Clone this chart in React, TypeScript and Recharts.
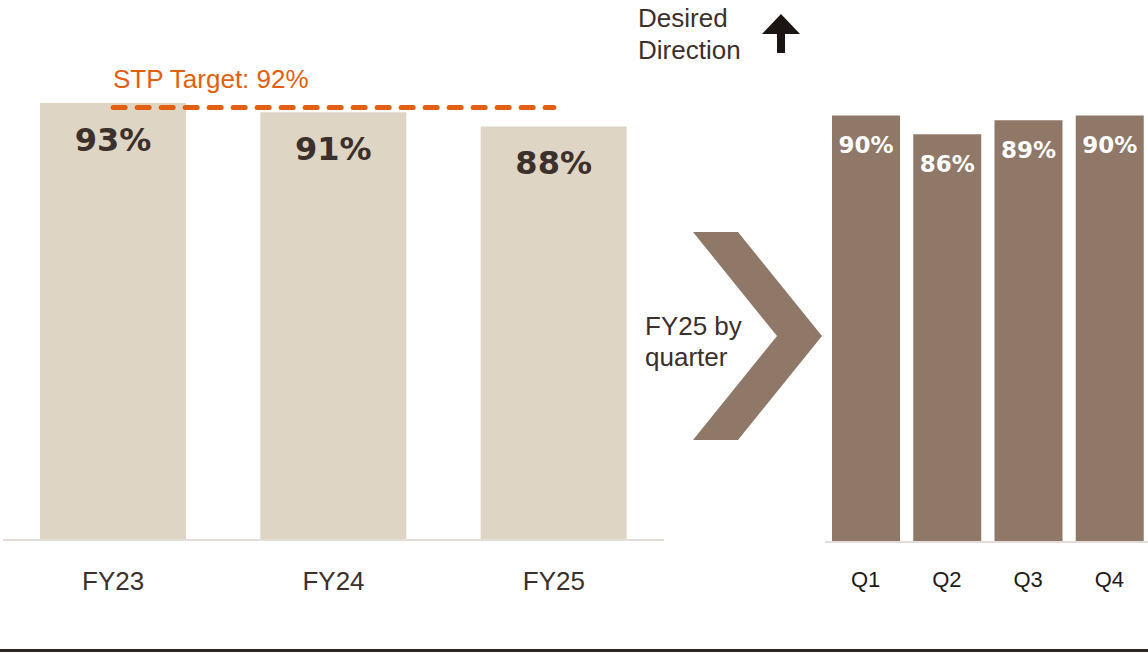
import React from "react";
import { BarChart, Bar, XAxis, YAxis, LabelList, ReferenceLine } from "recharts";

// annual on-time results
const years = ["FY23", "FY24", "FY25"];
const yearValues = [93, 91, 88];

// FY25 split by quarter
const quarters = ["Q1", "Q2", "Q3", "Q4"];
const quarterValues = [90, 86, 89, 90];

const targetValue = 92;
const targetLabel = "STP Target: 92%";

const annual = years.map((name, i) => ({ name, value: yearValues[i] }));
const quarterly = quarters.map((name, i) => ({ name, value: quarterValues[i] }));

const BEIGE = "#dfd5c4";
const BROWN = "#8f7868";
const ORANGE = "#e35f0e";
const INK = "#3b302c";
const AXIS = "#e4dcd8";
const SANS = "'Liberation Sans', Arial, sans-serif";
const BOLD = "'DejaVu Sans', sans-serif";

if (typeof document !== "undefined") document.body.style.margin = "0";

const pct = (v: number) => `${v}%`;

function valueLabel(offset: number, size: number, color: string) {
  return (p: any) => (
    <text
      x={p.x + p.width / 2}
      y={p.y + offset}
      textAnchor="middle"
      fontFamily={BOLD}
      fontWeight="bold"
      fontSize={size}
      fill={color}
    >
      {pct(p.value)}
    </text>
  );
}

export default function App() {
  return (
    <div style={{ position: "relative", width: 1148, height: 653, background: "#fff", overflow: "hidden" }}>
      <div style={{ position: "absolute", left: 0, top: 0 }}>
        <BarChart width={668} height={600} data={annual} margin={{ top: 70, right: 4, left: 3, bottom: 0 }}>
          <XAxis
            dataKey="name"
            height={60}
            tickLine={false}
            axisLine={{ stroke: AXIS, strokeWidth: 2 }}
            tickMargin={26}
            tick={{ fontSize: 26, fill: INK, fontFamily: SANS }}
          />
          <YAxis hide domain={[0, 100]} />
          <Bar dataKey="value" fill={BEIGE} barSize={146} isAnimationActive={false}>
            <LabelList dataKey="value" content={valueLabel(48, 32, INK)} />
          </Bar>
          <ReferenceLine
            segment={[
              { x: years[0], y: targetValue },
              { x: years[years.length - 1], y: targetValue },
            ]}
            stroke={ORANGE}
            strokeWidth={5}
            strokeDasharray="12 12"
            strokeLinecap="round"
          />
        </BarChart>
      </div>

      <div style={{ position: "absolute", left: 800, top: 0 }}>
        <BarChart width={350} height={600} data={quarterly} margin={{ top: 68, right: 0, left: 25, bottom: 0 }}>
          <XAxis
            dataKey="name"
            height={58}
            tickLine={false}
            axisLine={{ stroke: AXIS, strokeWidth: 2 }}
            tickMargin={23}
            tick={{ fontSize: 22, fill: "#1e1a18", fontFamily: SANS }}
          />
          <YAxis hide domain={[0, 100]} />
          <Bar dataKey="value" fill={BROWN} barSize={68} isAnimationActive={false}>
            <LabelList dataKey="value" content={valueLabel(38, 23, "#fff")} />
          </Bar>
        </BarChart>
      </div>

      {/* annotations */}
      <svg width={1148} height={653} style={{ position: "absolute", left: 0, top: 0, pointerEvents: "none" }}>
        <text x={113} y={88} fontFamily={SANS} fontSize={26} fill={ORANGE}>
          {targetLabel}
        </text>
        <text fontFamily={SANS} fontSize={26} fill={INK}>
          <tspan x={638} y={27}>Desired</tspan>
          <tspan x={638} y={59}>Direction</tspan>
        </text>
        <polygon points="781,14 800,34 785,34 785,53 777,53 777,34 762,34" fill="#1a1412" />
        <polygon points="693,232 738,232 822,336 738,440 693,440 777,336" fill={BROWN} />
        <text fontFamily={SANS} fontSize={26} fill={INK}>
          <tspan x={645} y={335}>FY25 by</tspan>
          <tspan x={645} y={366}>quarter</tspan>
        </text>
        <rect x={0} y={649} width={1148} height={3} fill="#2e2624" />
      </svg>
    </div>
  );
}
